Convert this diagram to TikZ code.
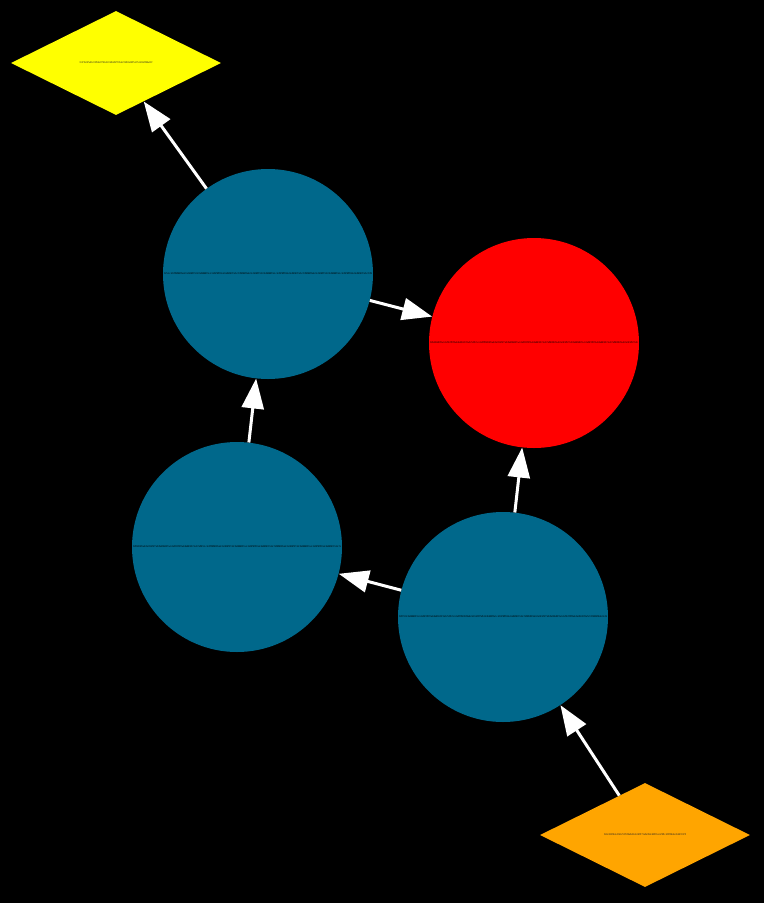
\documentclass[tikz,border=0pt]{standalone}
\usetikzlibrary{shapes.geometric,arrows.meta}
\definecolor{ballblue}{RGB}{0,104,139}
\definecolor{startorange}{RGB}{255,165,0}
\definecolor{leafyellow}{RGB}{255,255,0}
\newcommand{\hashline}[2]{\resizebox{#1}{2pt}{\ttfamily #2}}
\tikzset{
  ball/.style={circle, fill=ballblue, minimum size=210pt, inner sep=0pt, text=black},
  endball/.style={ball, fill=red},
  leaf/.style={diamond, aspect=2, minimum width=210pt, minimum height=104pt, inner sep=0pt, text=black!85},
  link/.style={->, white, line width=3pt}
}
\begin{document}
\begin{tikzpicture}[x=1pt, y=-1pt, >={Triangle[length=30pt,width=22pt]}]
  % 背景
  \fill[black] (0,0) rectangle (764,903);
  \useasboundingbox (0,0) rectangle (764,903);

  % 叶子
  \node[leaf, fill=leafyellow] (top) at (116,63)
    {\hashline{73pt}{0x3f9e1b7a64c02d58e1f7b3a9c04d6e2b7f15a8c93d60e4b27a1f5c8d3e09b6a4f2}};
  \node[leaf, fill=startorange] (src) at (645,835)
    {\hashline{82pt}{0x8c2d4f6a1e9b3c7d05f8a2e6b4c1d9f73a5e0b8c6d2f4a1e7b9c3d5f08a6e2c4b7d1f9}};

  % 中间节点
  \node[ball] (n1) at (268,274)
    {\hashline{208pt}{0x7a1c3e5f9b2d4f6a8c0e1b3d5f7a9c2e4b6d8f0a1c3e5b7d9f2a4c6e8b0d1f3a5c7e9b2d4f6a8c0e1b3d5f7a9c2e4b6d8f0a1c3e5b7d9f2a4c6e8b0d1f3a5c7e9b2d4f6a8c0e1b3d5f7a9c2e4b6d8f0a1c3e5b7d9f2a4c6e8b0d1f3a5c7e9b}};
  \node[endball] (n2) at (534,343)
    {\hashline{208pt}{0x2e4b6d8f0a1c3e5b7d9f2a4c6e8b0d1f3a5c7e9b7a1c3e5f9b2d4f6a8c0e1b3d5f7a9c2e4b6d8f0a1c3e5b7d9f2a4c6e8b0d1f3a5c7e9b2d4f6a8c0e1b3d5f7a9c2e4b6d8f0a1c3e5b7d9f2a4c6e8b0d1f3a5c7e9b2d4f6a8c0e1b3d5f7a9c}};
  \node[ball] (n3) at (237,547)
    {\hashline{208pt}{0x9b2d4f6a8c0e1b3d5f7a9c2e4b6d8f0a1c3e5b7d9f2a4c6e8b0d1f3a5c7e9b7a1c3e5f9b2d4f6a8c0e1b3d5f7a9c2e4b6d8f0a1c3e5b7d9f2a4c6e8b0d1f3a5c7e9b2d4f6a8c0e1b3d5f7a9c2e4b6d8f0a1c3e5b7d9f2a4c6e8b0d1f3a5c7e}};
  \node[ball] (n4) at (503,617)
    {\hashline{208pt}{0x5f7a9c2e4b6d8f0a1c3e5b7d9f2a4c6e8b0d1f3a5c7e9b7a1c3e5f9b2d4f6a8c0e1b3d5f7a9c2e4b6d8f0a1c3e5b7d9f2a4c6e8b0d1f3a5c7e9b2d4f6a8c0e1b3d5f7a9c2e4b6d8f0a1c3e5b7d9f2a4c6e8b0d1f3a5c7e9b2d4f6a8c0e1b}};

  % 连线
  \draw[link] (n1) -- (top);
  \draw[link] (n1) -- (n2);
  \draw[link] (n3) -- (n1);
  \draw[link] (n4) -- (n3);
  \draw[link] (n4) -- (n2);
  \draw[link] (src) -- (n4);
\end{tikzpicture}
\end{document}
